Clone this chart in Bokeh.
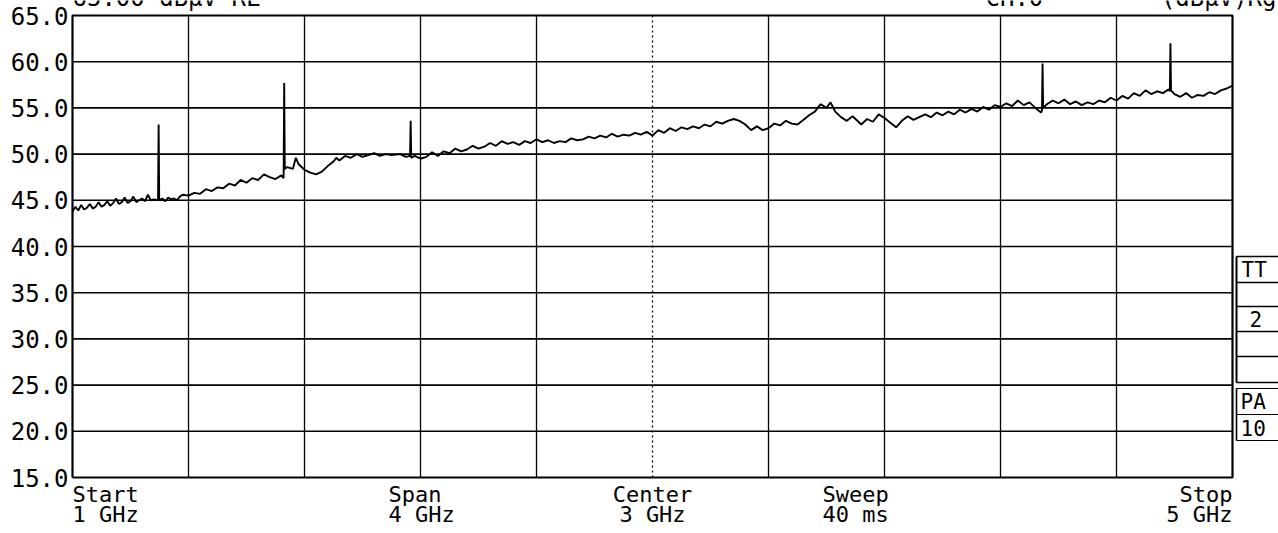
from bokeh.plotting import figure
from bokeh.models import Range1d
from bokeh.core.properties import value
from bokeh.embed import file_html
from bokeh.resources import INLINE

# ---------------- data ----------------
freq_ghz = [
    1.000, 1.010, 1.020, 1.030, 1.040, 1.050, 1.060, 1.070, 1.080, 1.090,
    1.100, 1.110, 1.120, 1.130, 1.140, 1.150, 1.160, 1.170, 1.180, 1.190,
    1.200, 1.210, 1.220, 1.230, 1.240, 1.250, 1.260, 1.270, 1.280, 1.295,
    1.297, 1.299, 1.310, 1.320, 1.330, 1.340, 1.350, 1.360, 1.370, 1.380,
    1.400, 1.420, 1.440, 1.460, 1.480, 1.500, 1.520, 1.540, 1.560, 1.580,
    1.600, 1.620, 1.640, 1.660, 1.680, 1.700, 1.720, 1.728, 1.730, 1.732,
    1.740, 1.760, 1.770, 1.780, 1.800, 1.820, 1.840, 1.860, 1.880, 1.900,
    1.910, 1.920, 1.940, 1.960, 1.980, 2.000, 2.020, 2.040, 2.060, 2.080,
    2.100, 2.130, 2.150, 2.164, 2.166, 2.168, 2.180, 2.200, 2.220, 2.240,
    2.260, 2.280, 2.300, 2.320, 2.340, 2.360, 2.380, 2.400, 2.420, 2.440,
    2.460, 2.480, 2.500, 2.520, 2.540, 2.560, 2.580, 2.600, 2.620, 2.640,
    2.660, 2.680, 2.700, 2.720, 2.740, 2.760, 2.780, 2.800, 2.820, 2.840,
    2.860, 2.880, 2.900, 2.920, 2.940, 2.960, 2.980, 3.000, 3.020, 3.040,
    3.060, 3.080, 3.100, 3.120, 3.140, 3.160, 3.180, 3.200, 3.220, 3.240,
    3.260, 3.280, 3.300, 3.320, 3.340, 3.360, 3.380, 3.400, 3.420, 3.440,
    3.460, 3.480, 3.500, 3.520, 3.540, 3.560, 3.580, 3.600, 3.614, 3.630,
    3.650, 3.670, 3.690, 3.700, 3.720, 3.740, 3.760, 3.780, 3.800, 3.820,
    3.840, 3.860, 3.880, 3.900, 3.920, 3.940, 3.960, 3.980, 4.000, 4.020,
    4.040, 4.060, 4.080, 4.100, 4.120, 4.140, 4.160, 4.180, 4.200, 4.220,
    4.240, 4.260, 4.280, 4.300, 4.320, 4.340, 4.343, 4.345, 4.347, 4.360,
    4.380, 4.400, 4.420, 4.440, 4.460, 4.480, 4.500, 4.520, 4.540, 4.560,
    4.580, 4.600, 4.620, 4.640, 4.660, 4.680, 4.700, 4.720, 4.740, 4.760,
    4.780, 4.784, 4.786, 4.788, 4.800, 4.820, 4.840, 4.860, 4.880, 4.900,
    4.920, 4.940, 4.960, 4.980, 5.000,
]
level_dbuv = [
    43.8, 44.3, 43.9, 44.5, 44.0, 44.2, 44.6, 44.1, 44.3, 44.8,
    44.3, 44.5, 44.9, 44.4, 44.7, 45.2, 44.6, 44.8, 45.3, 44.7,
    44.9, 45.4, 44.8, 45.0, 45.2, 44.9, 45.6, 45.0, 45.1, 45.0,
    53.2, 45.0, 45.2, 44.9, 45.3, 45.1, 45.2, 45.0, 45.4, 45.6,
    45.5, 45.8, 45.7, 46.2, 46.0, 46.4, 46.3, 46.8, 46.6, 47.2,
    46.9, 47.4, 47.2, 47.8, 47.5, 47.3, 47.7, 47.4, 57.7, 48.4,
    48.6, 48.4, 49.6, 48.9, 48.3, 48.0, 47.8, 48.1, 48.7, 49.2,
    49.6, 49.3, 49.8, 49.6, 50.0, 49.7, 49.9, 50.1, 49.8, 50.0,
    49.9, 50.0, 49.7, 49.8, 53.6, 49.6, 49.8, 49.5, 49.7, 50.2,
    49.8, 50.3, 50.1, 50.6, 50.3, 50.5, 50.9, 50.6, 50.8, 51.2,
    50.9, 51.4, 51.1, 51.3, 51.0, 51.4, 51.2, 51.6, 51.3, 51.5,
    51.2, 51.4, 51.3, 51.7, 51.5, 51.6, 51.9, 51.7, 52.0, 51.8,
    52.2, 51.9, 52.1, 52.0, 52.3, 52.1, 52.4, 52.0, 52.6, 52.3,
    52.8, 52.5, 52.9, 52.7, 53.0, 52.8, 53.2, 53.0, 53.5, 53.3,
    53.6, 53.8, 53.6, 53.2, 52.6, 53.0, 52.6, 52.8, 53.3, 53.1,
    53.6, 53.3, 53.2, 53.7, 54.2, 54.6, 55.4, 55.0, 55.6, 54.6,
    54.0, 53.6, 54.1, 53.8, 53.2, 53.8, 53.5, 54.3, 53.9, 53.4,
    52.9, 53.6, 54.1, 53.7, 54.0, 54.3, 54.0, 54.5, 54.2, 54.6,
    54.3, 54.8, 54.5, 54.9, 54.6, 55.1, 54.8, 55.3, 55.1, 55.5,
    55.2, 55.8, 55.3, 55.6, 55.0, 54.5, 54.7, 59.8, 55.0, 55.4,
    55.8, 55.5, 55.9, 55.4, 55.7, 55.3, 55.6, 55.4, 55.8, 55.6,
    56.1, 55.8, 56.3, 56.0, 56.6, 56.3, 56.9, 56.5, 56.8, 56.6,
    57.0, 56.8, 62.0, 56.9, 56.5, 56.2, 56.6, 56.1, 56.4, 56.3,
    56.7, 56.5, 56.9, 57.1, 57.4,
]

y_ticks = [15, 20, 25, 30, 35, 40, 45, 50, 55, 60, 65]
y_tick_labels = ["%.1f" % v for v in y_ticks]
x_grid = [1.4, 1.8, 2.2, 2.6, 3.0, 3.4, 3.8, 4.2, 4.6]

ann_top = ["Start", "Span", "Center", "Sweep", "Stop"]
ann_bottom = ["1 GHz", "4 GHz", "3 GHz", "40 ms", "5 GHz"]
ann_freq = [1.0, 2.09, 3.0, 3.586, 5.0]
ann_align = ["left", "left", "center", "left", "right"]

side_labels = ["TT", "2", "PA", "10"]

# ---------------- geometry ----------------
W, H = 1278, 533
PX_PER_GHZ = 290.0
PX_PER_DB = 9.24
X0 = 1.0 - 72 / PX_PER_GHZ
X1 = X0 + W / PX_PER_GHZ
YTOP = 65.0 + 15 / PX_PER_DB
YBOT = YTOP - H / PX_PER_DB


def fx(px):
    return X0 + px / PX_PER_GHZ


def fy(py):
    return YTOP - py / PX_PER_DB


MONO = value("DejaVu Sans Mono")

p = figure(width=W, height=H, x_range=Range1d(X0, X1), y_range=Range1d(YBOT, YTOP),
           x_axis_type=None, y_axis_type=None, toolbar_location=None,
           output_backend="svg", min_border=0, outline_line_color=None,
           background_fill_color="white", border_fill_color="white")

# grid
hy = [v for v in y_ticks if 15 < v < 65]
p.segment(x0=[1.0] * len(hy), y0=hy, x1=[5.0] * len(hy), y1=hy,
          line_color="black", line_width=1.6)
solid_x = [v for v in x_grid if abs(v - 3.0) > 1e-9]
p.segment(x0=solid_x, y0=[15] * len(solid_x), x1=solid_x, y1=[65] * len(solid_x),
          line_color="black", line_width=1.3)
p.segment(x0=[3.0], y0=[15], x1=[3.0], y1=[65], line_color="black",
          line_width=1.3, line_dash="2 3")
# border
p.line([1.0, 5.0, 5.0, 1.0, 1.0], [15, 15, 65, 65, 15], line_color="black", line_width=2.2)

# trace
p.line(freq_ghz, level_dbuv, line_color="black", line_width=1.9)

# y tick labels
p.text(x=[fx(68)] * len(y_ticks), y=y_ticks, text=y_tick_labels,
       text_font=MONO, text_font_size="24px", text_align="right",
       text_baseline="middle", text_color="black")

# bottom annotations
for t, b, f, a in zip(ann_top, ann_bottom, ann_freq, ann_align):
    p.text(x=[f], y=[fy(481)], text=[t], text_font=MONO, text_font_size="22px",
           text_align=a, text_baseline="top", text_color="black")
    p.text(x=[f], y=[fy(501)], text=[b], text_font=MONO, text_font_size="22px",
           text_align=a, text_baseline="top", text_color="black")

# header (cut off at the top of the page, as in the reference)
p.text(x=[1.0], y=[fy(-3)], text=["65.00 dBμV RL"], text_font=MONO,
       text_font_size="24px", text_align="left", text_baseline="alphabetic",
       text_color="black")
p.text(x=[fx(985)], y=[fy(-3)], text=["CH.0"], text_font=MONO,
       text_font_size="24px", text_align="left", text_baseline="alphabetic",
       text_color="black")
p.text(x=[fx(1276)], y=[fy(-3)], text=["(dBμV)Rg"], text_font=MONO,
       text_font_size="24px", text_align="right", text_baseline="alphabetic",
       text_color="black")

# side soft-key boxes
bx = fx(1236)
bx2 = fx(1280)
rows1 = [256, 282, 306, 331, 356, 382]
p.segment(x0=[bx] * len(rows1), y0=[fy(r) for r in rows1],
          x1=[bx2] * len(rows1), y1=[fy(r) for r in rows1],
          line_color="black", line_width=1.4)
p.segment(x0=[bx], y0=[fy(256)], x1=[bx], y1=[fy(382)], line_color="black", line_width=2)
rows2 = [388, 414, 440]
p.segment(x0=[bx] * len(rows2), y0=[fy(r) for r in rows2],
          x1=[bx2] * len(rows2), y1=[fy(r) for r in rows2],
          line_color="black", line_width=1.2)
p.segment(x0=[bx], y0=[fy(388)], x1=[bx], y1=[fy(440)], line_color="black", line_width=1.6)
side_x = [fx(1241), fx(1249), fx(1240), fx(1240)]
side_y = [fy(269), fy(318), fy(401), fy(427)]
p.text(x=side_x, y=side_y, text=side_labels, text_font=MONO, text_font_size="21px",
       text_align="left", text_baseline="middle", text_color="black")

open("out.html", "w").write(file_html(p, INLINE))
